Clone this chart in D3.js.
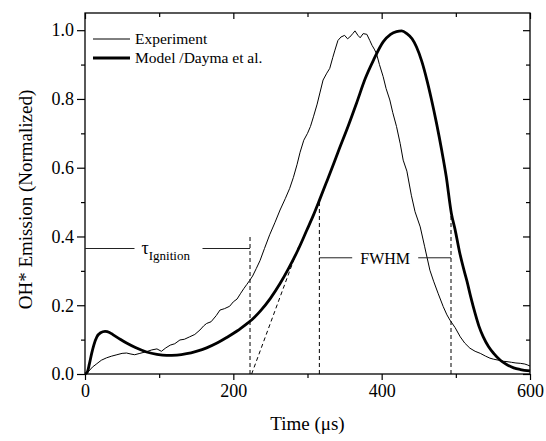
<!DOCTYPE html>
<html>
<head>
<meta charset="utf-8">
<script src="https://cdn.jsdelivr.net/npm/d3@7"></script>
<style>
  body { margin: 0; background: #fff; }
  svg text { font-family: "Liberation Serif", "Times New Roman", serif; fill: #000; }
</style>
</head>
<body>
<div id="chart"></div>
<script>
// Experiment (thin line): time in us, normalized emission
var expTime = [0, 5, 10, 16, 22, 29, 36, 43, 50, 56, 62, 67, 74, 83, 90, 97, 103, 109, 115, 121, 128, 134, 141, 148, 155, 160, 164, 170, 177, 182, 188, 195, 200, 205, 210, 214, 218, 222, 226, 231, 236, 242, 249, 256, 263, 270, 276, 281, 286, 290, 295, 300, 304, 308, 313, 317, 321, 326, 330, 334, 337, 341, 345, 350, 354, 357, 361, 364, 368, 371, 375, 380, 384, 387, 390, 393, 397, 402, 406, 411, 415, 420, 425, 429, 434, 440, 445, 452, 458, 465, 470, 476, 483, 488, 492, 499, 506, 512, 519, 526, 533, 540, 546, 551, 558, 564, 569, 575, 581, 587, 593, 597, 600];
var expValue = [0, 0.008, 0.02, 0.03, 0.04, 0.047, 0.052, 0.056, 0.06, 0.061, 0.058, 0.056, 0.06, 0.065, 0.07, 0.073, 0.066, 0.076, 0.084, 0.088, 0.099, 0.101, 0.108, 0.115, 0.128, 0.14, 0.147, 0.152, 0.17, 0.186, 0.19, 0.197, 0.21, 0.218, 0.235, 0.248, 0.26, 0.272, 0.285, 0.307, 0.33, 0.365, 0.405, 0.44, 0.477, 0.51, 0.54, 0.572, 0.61, 0.645, 0.68, 0.7, 0.72, 0.748, 0.785, 0.82, 0.855, 0.875, 0.889, 0.92, 0.942, 0.97, 0.98, 0.985, 0.975, 0.98, 0.99, 0.998, 0.985, 0.978, 0.99, 0.988, 0.97, 0.956, 0.945, 0.932, 0.9, 0.865, 0.83, 0.797, 0.76, 0.72, 0.67, 0.622, 0.59, 0.52, 0.472, 0.428, 0.37, 0.302, 0.27, 0.235, 0.196, 0.172, 0.157, 0.135, 0.108, 0.09, 0.075, 0.066, 0.06, 0.052, 0.046, 0.043, 0.04, 0.037, 0.036, 0.034, 0.032, 0.031, 0.029, 0.026, 0.023];

// Model / Dayma et al. (thick line)
var modelTime = [0, 3, 6, 9, 12, 16, 21, 27, 33, 38, 46, 56, 68, 83, 97, 110, 124, 137, 150, 164, 178, 191, 205, 218, 225, 236, 250, 263, 274, 287, 299, 308, 316, 326, 335, 342, 355, 366, 378, 389, 402, 412, 420, 427, 434, 441, 447, 454, 461, 467, 474, 481, 487, 494, 499, 505, 511, 515, 520, 526, 531, 537, 544, 551, 560, 569, 578, 587, 600];
var modelValue = [0, 0.005, 0.03, 0.06, 0.085, 0.108, 0.12, 0.124, 0.121, 0.114, 0.103, 0.09, 0.077, 0.064, 0.057, 0.054, 0.055, 0.059, 0.066, 0.076, 0.09, 0.106, 0.125, 0.146, 0.158, 0.182, 0.22, 0.263, 0.305, 0.36, 0.418, 0.462, 0.505, 0.56, 0.61, 0.65, 0.722, 0.787, 0.86, 0.913, 0.966, 0.988, 0.996, 0.998, 0.99, 0.975, 0.951, 0.91, 0.855, 0.8, 0.729, 0.65, 0.575, 0.467, 0.42, 0.355, 0.302, 0.27, 0.225, 0.176, 0.14, 0.108, 0.08, 0.06, 0.04, 0.027, 0.018, 0.013, 0.009];

var xTicks = [0, 200, 400, 600];
var xMinorTicks = [100, 300, 500];
var yTicks = [0, 0.2, 0.4, 0.6, 0.8, 1.0];
var yMinorTicks = [0.1, 0.3, 0.5, 0.7, 0.9];

// annotation values
var ignitionTime = 222.5, ignitionLevel = 0.365, ignitionTop = 0.40;
var tangentTime = [224.7, 288], tangentValue = [0, 0.37];
var fwhmTime = [316, 493.5], fwhmTop = [0.5, 0.467], fwhmLevel = 0.338;

var width = 546, height = 441;
var margin = { top: 13, right: 16, bottom: 67, left: 85 };
var w = width - margin.left - margin.right;
var h = height - margin.top - margin.bottom;

var svg = d3.select("#chart").append("svg")
    .attr("width", width)
    .attr("height", height)
    .append("g")
    .attr("transform", "translate(" + margin.left + "," + margin.top + ")");

var x = d3.scaleLinear().domain([0, 600]).range([0, w]);
var y = d3.scaleLinear().domain([0, 1.05]).range([h, 0]);

// axes: left/bottom ticks outside, top/right ticks inside
svg.append("g").attr("class", "ax").attr("transform", "translate(0," + h + ")")
    .call(d3.axisBottom(x).tickValues(xTicks).tickSize(6).tickPadding(4).tickFormat(d3.format("d")));
svg.append("g").attr("class", "ax").attr("transform", "translate(0," + h + ")")
    .call(d3.axisBottom(x).tickValues(xMinorTicks).tickSize(4).tickFormat(""));
svg.append("g").attr("class", "ax")
    .call(d3.axisTop(x).tickValues(xTicks).tickSize(-6).tickFormat(""));
svg.append("g").attr("class", "ax")
    .call(d3.axisTop(x).tickValues(xMinorTicks).tickSize(-4).tickFormat(""));
svg.append("g").attr("class", "ax")
    .call(d3.axisLeft(y).tickValues(yTicks).tickSize(8).tickPadding(3).tickFormat(d3.format(".1f")));
svg.append("g").attr("class", "ax")
    .call(d3.axisLeft(y).tickValues(yMinorTicks).tickSize(4).tickFormat(""));
svg.append("g").attr("class", "ax").attr("transform", "translate(" + w + ",0)")
    .call(d3.axisRight(y).tickValues(yTicks).tickSize(-7).tickFormat(""));
svg.append("g").attr("class", "ax").attr("transform", "translate(" + w + ",0)")
    .call(d3.axisRight(y).tickValues(yMinorTicks).tickSize(-4).tickFormat(""));

svg.selectAll(".ax").attr("font-family", null).attr("font-size", null);
svg.selectAll(".domain").remove();
svg.selectAll(".tick line").style("stroke", "#000").style("stroke-width", 1.2);
svg.selectAll(".tick text")
    .style("font-size", "18px")
    .style("font-family", "'Liberation Serif', serif");

svg.append("rect")
    .attr("width", w).attr("height", h)
    .style("fill", "none").style("stroke", "#000").style("stroke-width", 1.3);

// axis titles
svg.append("text")
    .attr("x", w / 2).attr("y", h + 56)
    .style("text-anchor", "middle").style("font-size", "19px")
    .text("Time (\u03bcs)");
svg.append("text")
    .attr("transform", "translate(-53," + (h / 2 + 6) + ") rotate(-90)")
    .style("text-anchor", "middle").style("font-size", "19px")
    .text("OH* Emission (Normalized)");

// curves
var line = d3.line()
    .x(function(d) { return x(d[0]); })
    .y(function(d) { return y(d[1]); });

svg.append("path")
    .datum(expTime.map(function(t, i) { return [t, expValue[i]]; }))
    .attr("d", line)
    .style("fill", "none").style("stroke", "#000").style("stroke-width", 1);

svg.append("path")
    .datum(modelTime.map(function(t, i) { return [t, modelValue[i]]; }))
    .attr("d", line.curve(d3.curveMonotoneX))
    .style("fill", "none").style("stroke", "#000").style("stroke-width", 2.8);

// annotations
function dashed(x1, y1, x2, y2) {
    svg.append("line")
        .attr("x1", x(x1)).attr("y1", y(y1)).attr("x2", x(x2)).attr("y2", y(y2))
        .style("stroke", "#000").style("stroke-width", 1).style("stroke-dasharray", "4,3");
}
function solid(px1, py, px2) {
    svg.append("line")
        .attr("x1", px1).attr("y1", y(py)).attr("x2", px2).attr("y2", y(py))
        .style("stroke", "#222").style("stroke-width", 1);
}

dashed(ignitionTime, 0, ignitionTime, ignitionTop);
dashed(tangentTime[0], tangentValue[0], tangentTime[1], tangentValue[1]);
dashed(fwhmTime[0], 0, fwhmTime[0], fwhmTop[0]);
dashed(fwhmTime[1], 0, fwhmTime[1], fwhmTop[1]);

// tau ignition bracket
var tauCenter = (x(0) + x(ignitionTime)) / 2;
solid(x(0), ignitionLevel, tauCenter - 33);
solid(tauCenter + 35, ignitionLevel, x(ignitionTime));
var tau = svg.append("text")
    .attr("x", tauCenter - 26).attr("y", y(ignitionLevel) + 5)
    .style("font-size", "18px");
tau.append("tspan").text("\u03c4");
tau.append("tspan").attr("dy", 6).style("font-size", "13px").text("Ignition");

// FWHM bracket
var fCenter = (x(fwhmTime[0]) + x(fwhmTime[1])) / 2;
solid(x(fwhmTime[0]), fwhmLevel, fCenter - 33);
solid(fCenter + 33, fwhmLevel, x(fwhmTime[1]));
svg.append("text")
    .attr("x", fCenter).attr("y", y(fwhmLevel) + 6)
    .style("text-anchor", "middle").style("font-size", "16px")
    .text("FWHM");

// legend
var legendItems = [["Experiment", 1], ["Model /Dayma et al.", 2.8]];
var legend = svg.selectAll(".legend")
    .data(legendItems)
    .enter().append("g")
    .attr("class", "legend")
    .attr("transform", function(d, i) { return "translate(8," + (26 + i * 19) + ")"; });
legend.append("line")
    .attr("x1", 0).attr("x2", 37).attr("y1", 0).attr("y2", 0)
    .style("stroke", "#000").style("stroke-width", function(d) { return d[1]; });
legend.append("text")
    .attr("x", 42).attr("y", 5)
    .style("font-size", "15.5px")
    .text(function(d) { return d[0]; });
</script>
</body>
</html>
